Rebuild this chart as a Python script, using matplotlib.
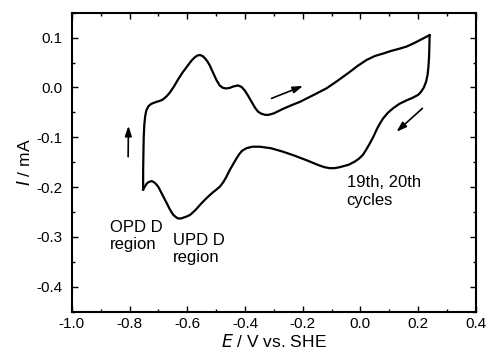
import matplotlib
matplotlib.use("Agg")
import matplotlib.pyplot as plt
from matplotlib.ticker import MultipleLocator

plt.rcParams['font.family'] = ['Liberation Sans', 'DejaVu Sans']

# anodic sweep, -0.75 V -> +0.24 V
E_fwd = [-0.753, -0.753, -0.752, -0.751, -0.749, -0.746, -0.742, -0.735, -0.725,
         -0.707, -0.695, -0.684, -0.672, -0.660, -0.646, -0.632, -0.615, -0.597,
         -0.585, -0.575, -0.565, -0.556, -0.547, -0.538, -0.530, -0.522, -0.511,
         -0.499, -0.488, -0.476, -0.465, -0.453, -0.440, -0.424, -0.412, -0.401,
         -0.390, -0.377, -0.365, -0.354, -0.342, -0.330, -0.318, -0.300, -0.268,
         -0.240, -0.210, -0.165, -0.118, -0.080, -0.037, -0.010, 0.021, 0.050,
         0.079, 0.105, 0.137, 0.160, 0.183, 0.210, 0.240]
I_fwd = [-0.205, -0.170, -0.130, -0.100, -0.075, -0.058, -0.046, -0.038, -0.033,
         -0.029, -0.027, -0.024, -0.018, -0.010, 0.002, 0.016, 0.031, 0.045,
         0.054, 0.060, 0.064, 0.065, 0.063, 0.058, 0.052, 0.044, 0.030,
         0.015, 0.004, -0.001, -0.002, -0.001, 0.002, 0.004, 0.001, -0.006,
         -0.016, -0.029, -0.041, -0.049, -0.053, -0.055, -0.055, -0.052, -0.043,
         -0.036, -0.029, -0.016, -0.002, 0.013, 0.031, 0.043, 0.055, 0.063,
         0.068, 0.073, 0.078, 0.082, 0.088, 0.096, 0.105]

# cathodic sweep, back from +0.24 V
E_rev = [0.240, 0.239, 0.238, 0.236, 0.233, 0.228, 0.220, 0.210, 0.200, 0.180,
         0.160, 0.135, 0.113, 0.095, 0.079, 0.067, 0.056, 0.045, 0.033, 0.020,
         0.009, -0.005, -0.020, -0.040, -0.071, -0.090, -0.106, -0.125, -0.145,
         -0.187, -0.228, -0.268, -0.310, -0.349, -0.375, -0.395, -0.410, -0.420,
         -0.430, -0.441, -0.453, -0.465, -0.475, -0.487, -0.499, -0.510, -0.520,
         -0.533, -0.545, -0.558, -0.570, -0.581, -0.591, -0.602, -0.612, -0.622,
         -0.632, -0.640, -0.648, -0.655, -0.662, -0.668, -0.675, -0.684, -0.692,
         -0.700, -0.708, -0.716, -0.723, -0.730, -0.737, -0.743, -0.748, -0.753]
I_rev = [0.105, 0.080, 0.061, 0.043, 0.026, 0.012, 0.000, -0.009, -0.015, -0.021,
         -0.026, -0.033, -0.042, -0.051, -0.062, -0.073, -0.085, -0.099, -0.112, -0.125,
         -0.135, -0.143, -0.149, -0.155, -0.160, -0.162, -0.162, -0.160, -0.156,
         -0.146, -0.137, -0.129, -0.122, -0.119, -0.119, -0.122, -0.127, -0.134,
         -0.143, -0.154, -0.166, -0.180, -0.190, -0.199, -0.205, -0.210, -0.215,
         -0.222, -0.229, -0.237, -0.245, -0.251, -0.256, -0.259, -0.261, -0.263,
         -0.263, -0.260, -0.256, -0.250, -0.243, -0.236, -0.228, -0.218, -0.209,
         -0.200, -0.194, -0.190, -0.188, -0.189, -0.191, -0.195, -0.200, -0.205]

fig = plt.figure(figsize=(4.89, 3.62), dpi=100)
ax = fig.add_axes([0.147, 0.139, 0.826, 0.826])

ax.plot(E_fwd, I_fwd, color='k', lw=1.6, solid_joinstyle='round')
ax.plot(E_rev, I_rev, color='k', lw=1.6, solid_joinstyle='round')

# sweep direction arrows
arrow = dict(arrowstyle='-|>,head_length=0.6,head_width=0.2', color='k', lw=1.2,
             shrinkA=0, shrinkB=0)
ax.annotate('', xy=(-0.804, -0.077), xytext=(-0.805, -0.139), arrowprops=arrow)
ax.annotate('', xy=(-0.199, 0.003), xytext=(-0.308, -0.022), arrowprops=arrow)
ax.annotate('', xy=(0.125, -0.089), xytext=(0.215, -0.042), arrowprops=arrow)

ax.text(-0.868, -0.266, 'OPD D\nregion', fontsize=12, va='top', ha='left')
ax.text(-0.651, -0.292, 'UPD D\nregion', fontsize=12, va='top', ha='left')
ax.text(-0.048, -0.176, '19th, 20th\ncycles', fontsize=12, va='top', ha='left')

ax.set_xlim(-1.0, 0.4)
ax.set_ylim(-0.45, 0.15)
ax.xaxis.set_major_locator(MultipleLocator(0.2))
ax.xaxis.set_minor_locator(MultipleLocator(0.1))
ax.yaxis.set_major_locator(MultipleLocator(0.1))
ax.yaxis.set_minor_locator(MultipleLocator(0.05))
ax.set_xticklabels([f'{v:.1f}' for v in ax.get_xticks()])
ax.set_yticklabels([f'{v:.1f}' for v in ax.get_yticks()])

ax.tick_params(which='both', direction='in', top=True, right=True, labelsize=11, width=1.0)
ax.tick_params(which='major', length=4)
ax.tick_params(which='minor', length=2.2)
ax.tick_params(axis='x', pad=4)
ax.tick_params(axis='y', pad=7)
for s in ax.spines.values():
    s.set_linewidth(1.5)

ax.set_xlabel('$\\it{E}$ / V vs. SHE', fontsize=12.5, labelpad=1)
ax.set_ylabel('$\\it{I}$ / mA', fontsize=12.5, labelpad=2)

fig.savefig('out.png', dpi=100)
